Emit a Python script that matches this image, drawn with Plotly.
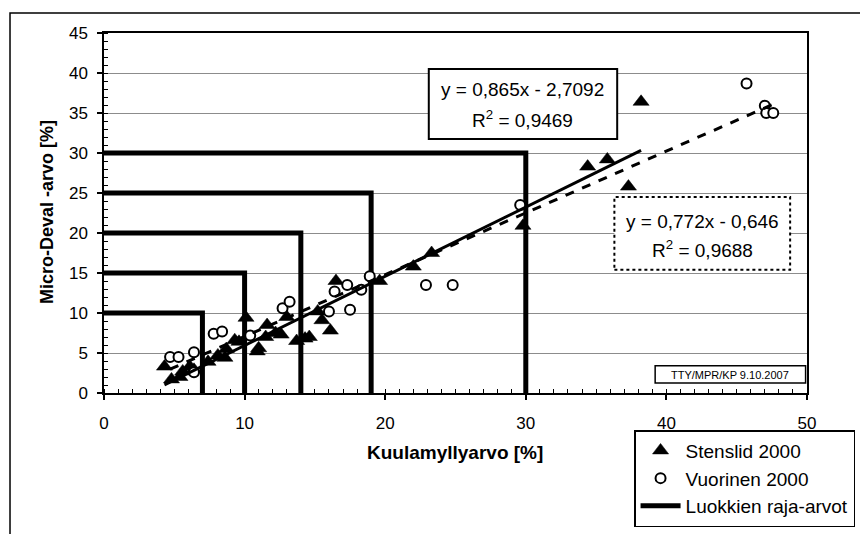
import plotly.graph_objects as go

# ---- data ----
sten_x = [4.3, 4.8, 5.4, 5.6, 6.1, 6.4, 7.4, 8.1, 8.6, 8.7, 9.3, 9.6, 10.1, 10.9, 11.0,
          11.5, 11.6, 12.2, 12.6, 13.0, 13.7, 14.3, 14.6, 15.2, 15.5, 16.1, 16.5,
          19.6, 22.0, 23.3, 29.8, 34.4, 35.8, 37.3, 38.2]
sten_y = [3.3, 1.7, 2.0, 2.7, 3.3, 2.9, 3.9, 4.7, 4.4, 5.5, 6.6, 6.4, 9.4, 5.2, 5.6,
          7.0, 8.5, 7.5, 7.3, 9.5, 6.5, 6.8, 7.0, 10.2, 9.1, 7.8, 14.0,
          14.0, 15.8, 17.5, 20.9, 28.3, 29.2, 25.8, 36.4]

vuor_x = [4.7, 5.3, 6.4, 6.4, 7.8, 8.4, 10.4, 12.7, 13.2, 16.0, 16.4, 17.3, 17.5,
          18.3, 18.9, 22.9, 24.8, 29.6, 45.7, 47.0, 47.1, 47.6]
vuor_y = [4.5, 4.5, 5.1, 2.6, 7.4, 7.7, 7.2, 10.6, 11.4, 10.2, 12.7, 13.5, 10.4,
          12.9, 14.6, 13.5, 13.5, 23.5, 38.7, 35.9, 35.0, 35.0]

# class limit values (Luokkien raja-arvot)
limit_x = [7, 10, 14, 19, 30]
limit_y = [10, 15, 20, 25, 30]

# trend lines (slope, intercept, R2)
sten_fit = (0.865, -2.7092, 0.9469)
vuor_fit = (0.772, -0.646, 0.9688)

x_ticks = [0, 10, 20, 30, 40, 50]
y_ticks = [0, 5, 10, 15, 20, 25, 30, 35, 40, 45]

FONT = "Liberation Sans, Arial, sans-serif"

# build limit step lines
lx, ly = [], []
for xv, yv in zip(limit_x, limit_y):
    lx += [0, xv, xv, None]
    ly += [yv, yv, 0, None]

sx0, sx1 = min(sten_x), max(sten_x)
vx0, vx1 = min(vuor_x), max(vuor_x)

fig = go.Figure()

fig.add_trace(go.Scatter(
    x=lx, y=ly, mode="lines", name="Luokkien raja-arvot",
    line=dict(color="black", width=5), legendrank=3))

fig.add_trace(go.Scatter(
    x=sten_x, y=sten_y, mode="markers", name="Stenslid 2000",
    marker=dict(symbol="triangle-up", size=14, color="black",
                line=dict(color="black", width=0.5)), legendrank=1))

fig.add_trace(go.Scatter(
    x=vuor_x, y=vuor_y, mode="markers", name="Vuorinen 2000",
    marker=dict(symbol="circle", size=10, color="white",
                line=dict(color="black", width=2)), legendrank=2))

fig.add_trace(go.Scatter(
    x=[sx0, sx1], y=[sten_fit[0] * sx0 + sten_fit[1], sten_fit[0] * sx1 + sten_fit[1]],
    mode="lines", line=dict(color="black", width=3), showlegend=False))

fig.add_trace(go.Scatter(
    x=[vx0, vx1], y=[vuor_fit[0] * vx0 + vuor_fit[1], vuor_fit[0] * vx1 + vuor_fit[1]],
    mode="lines", line=dict(color="black", width=3, dash="dash"), showlegend=False))

def fmt(v, nd):
    return f"{v:.{nd}f}".replace(".", ",")

shapes = [
    # outer chart frame
    dict(type="rect", xref="paper", yref="paper", x0=-0.1337, x1=1.12, y0=-0.47, y1=1.0556,
         line=dict(color="black", width=1.5), layer="below"),
    # equation box 1
    dict(type="rect", xref="x", yref="y", x0=23.1, x1=36.5, y0=31.75, y1=40.5,
         line=dict(color="black", width=2), fillcolor="white", layer="above"),
    # equation box 2 (dotted)
    dict(type="rect", xref="x", yref="y", x0=36.3, x1=48.8, y0=15.4, y1=24.5,
         line=dict(color="black", width=2, dash="dot"), fillcolor="white", layer="above"),
    # watermark box
    dict(type="rect", xref="x", yref="y", x0=39.2, x1=49.9, y0=1.25, y1=3.4,
         line=dict(color="black", width=1.5), fillcolor="white", layer="above"),
]

EQ = 19
annotations = [
    dict(x=29.8, y=38.0, xref="x", yref="y", showarrow=False,
         text=f"y = {fmt(sten_fit[0], 3)}x - {fmt(-sten_fit[1], 4)}",
         font=dict(family=FONT, size=EQ, color="black")),
    dict(x=29.8, y=34.2, xref="x", yref="y", showarrow=False,
         text=f"R<sup>2</sup> = {fmt(sten_fit[2], 4)}",
         font=dict(family=FONT, size=EQ, color="black")),
    dict(x=42.55, y=21.5, xref="x", yref="y", showarrow=False,
         text=f"y = {fmt(vuor_fit[0], 3)}x - {fmt(-vuor_fit[1], 3)}",
         font=dict(family=FONT, size=EQ, color="black")),
    dict(x=42.55, y=18.0, xref="x", yref="y", showarrow=False,
         text=f"R<sup>2</sup> = {fmt(vuor_fit[2], 4)}",
         font=dict(family=FONT, size=EQ, color="black")),
    dict(x=44.55, y=2.3, xref="x", yref="y", showarrow=False,
         text="TTY/MPR/KP 9.10.2007",
         font=dict(family=FONT, size=11, color="black")),
    dict(x=0.4993, y=-0.20, xref="paper", yref="paper", showarrow=False,
         text="<b>Kuulamyllyarvo [%]</b>",
         font=dict(family=FONT, size=19, color="black")),
    dict(x=-0.098, y=0.503, xref="paper", yref="paper", showarrow=False, textangle=-90,
         text="<b>Micro-Deval -arvo [%]</b>",
         font=dict(family=FONT, size=18, color="black")),
]

# figure placed inside the page body (8px default margin), so compensate
fig.update_layout(
    width=860, height=526,
    margin=dict(l=96, r=61, t=25, b=141, autoexpand=False),
    paper_bgcolor="white", plot_bgcolor="white",
    font=dict(family=FONT, size=17, color="black"),
    shapes=shapes, annotations=annotations,
    legend=dict(x=0.754, y=-0.103, xanchor="left", yanchor="top",
                bgcolor="white", bordercolor="black", borderwidth=1.5,
                font=dict(family=FONT, size=19, color="black"),
                itemwidth=40, tracegroupgap=0),
)

fig.update_xaxes(
    range=[0, 50], tickvals=x_ticks, showgrid=False, zeroline=False,
    showline=True, linecolor="black", linewidth=1.5, mirror=True,
    ticks="outside", ticklen=5, tickwidth=1.5, tickcolor="black",
    ticklabelstandoff=9,
    minor=dict(ticks="inside", dtick=1, ticklen=4, tickcolor="black", tickwidth=1, showgrid=False),
    tickfont=dict(family=FONT, size=17, color="black"))

fig.update_yaxes(
    range=[0, 45], tickvals=y_ticks, showgrid=True, gridcolor="#8c8c8c", gridwidth=1,
    zeroline=False,
    showline=True, linecolor="black", linewidth=1.5, mirror=True,
    ticks="outside", ticklen=5, tickwidth=1.5, tickcolor="black",
    ticklabelstandoff=6,
    minor=dict(ticks="inside", dtick=1, ticklen=4, tickcolor="black", tickwidth=1, showgrid=False),
    tickfont=dict(family=FONT, size=17, color="black"))

fig.write_html("out.html")
